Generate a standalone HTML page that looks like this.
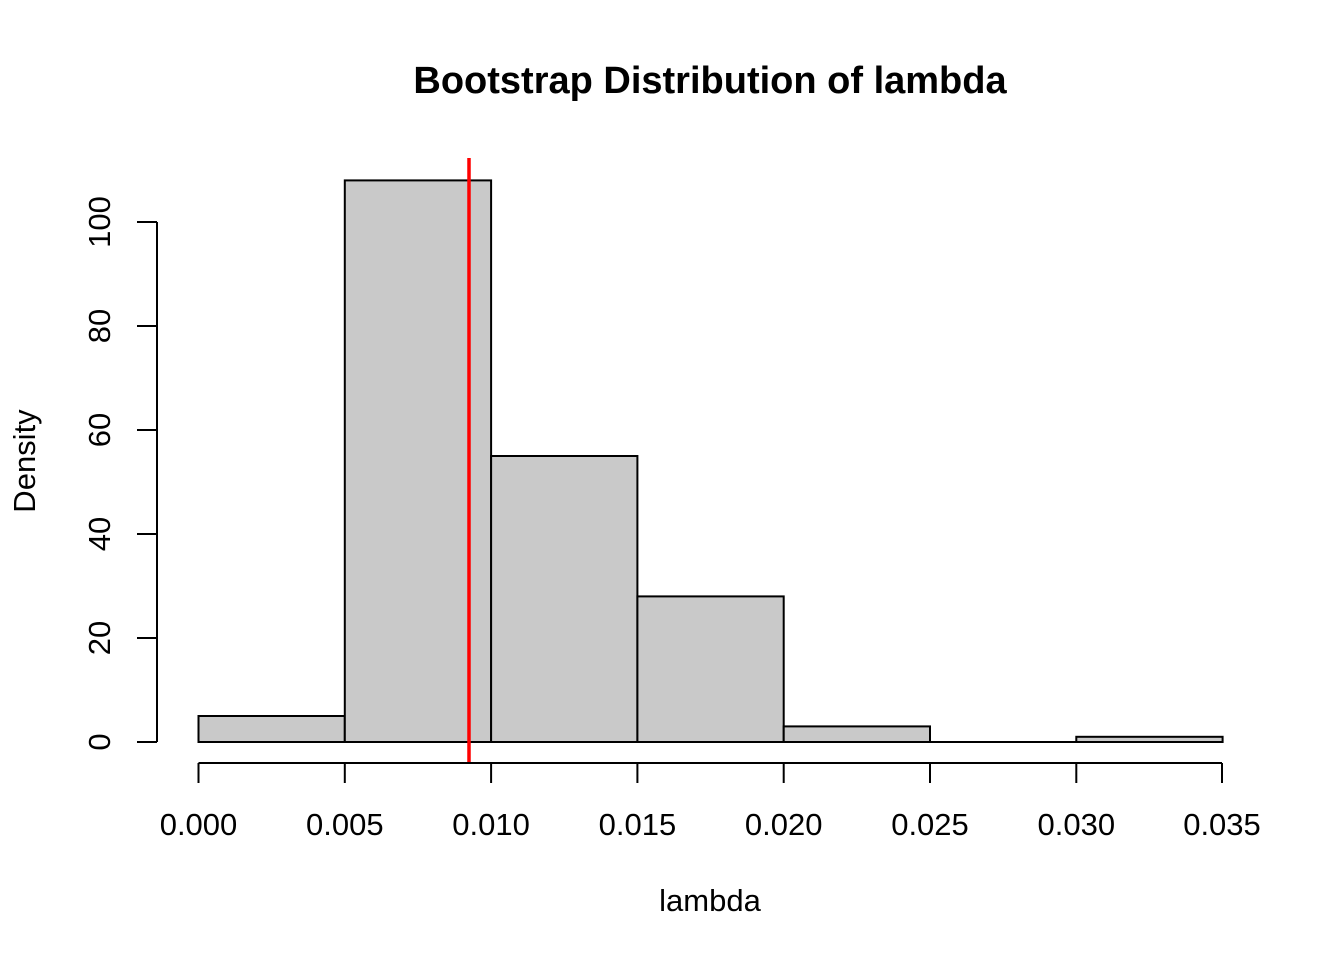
<!DOCTYPE html>
<html><head><style>body{margin:0;background:#fff}</style></head><body>
<svg width="1344" height="960" xmlns="http://www.w3.org/2000/svg" font-family="Liberation Sans, Arial, sans-serif">
<rect width="1344" height="960" fill="#fff"/>
<g fill="#c9c9c9" stroke="#000" stroke-width="2">
<rect x="198.5" y="716" width="146.3" height="26"/>
<rect x="344.8" y="180.4" width="146.3" height="561.6"/>
<rect x="491.1" y="456" width="146.3" height="286"/>
<rect x="637.4" y="596.4" width="146.3" height="145.6"/>
<rect x="783.7" y="726.4" width="146.3" height="15.6"/>
<line x1="930" y1="742" x2="1076.3" y2="742"/>
<rect x="1076.3" y="736.8" width="146.3" height="5.2"/>
</g>
<line x1="469" y1="158" x2="469" y2="763" stroke="#f00" stroke-width="3.5"/>
<g stroke="#000" stroke-width="2" fill="none">
<line x1="198.5" y1="763" x2="1222" y2="763"/>
<line x1="198.5" y1="763" x2="198.5" y2="783"/>
<line x1="344.8" y1="763" x2="344.8" y2="783"/>
<line x1="491.1" y1="763" x2="491.1" y2="783"/>
<line x1="637.4" y1="763" x2="637.4" y2="783"/>
<line x1="783.7" y1="763" x2="783.7" y2="783"/>
<line x1="930" y1="763" x2="930" y2="783"/>
<line x1="1076.3" y1="763" x2="1076.3" y2="783"/>
<line x1="1222" y1="763" x2="1222" y2="783"/>
<line x1="157" y1="222" x2="157" y2="742"/>
<line x1="137" y1="742" x2="157" y2="742"/>
<line x1="137" y1="638" x2="157" y2="638"/>
<line x1="137" y1="534" x2="157" y2="534"/>
<line x1="137" y1="430" x2="157" y2="430"/>
<line x1="137" y1="326" x2="157" y2="326"/>
<line x1="137" y1="222" x2="157" y2="222"/>
</g>
<g font-size="31" text-anchor="middle" fill="#000">
<text x="198.5" y="835">0.000</text>
<text x="344.8" y="835">0.005</text>
<text x="491.1" y="835">0.010</text>
<text x="637.4" y="835">0.015</text>
<text x="783.7" y="835">0.020</text>
<text x="930" y="835">0.025</text>
<text x="1076.3" y="835">0.030</text>
<text x="1222" y="835">0.035</text>
<text transform="translate(110,742) rotate(-90)">0</text>
<text transform="translate(110,638) rotate(-90)">20</text>
<text transform="translate(110,534) rotate(-90)">40</text>
<text transform="translate(110,430) rotate(-90)">60</text>
<text transform="translate(110,326) rotate(-90)">80</text>
<text transform="translate(110,222) rotate(-90)">100</text>
<text x="710" y="911">lambda</text>
<text transform="translate(35,461) rotate(-90)">Density</text>
<text x="710" y="93" font-size="38" font-weight="bold">Bootstrap Distribution of lambda</text>
</g>
</svg>
</body></html>
